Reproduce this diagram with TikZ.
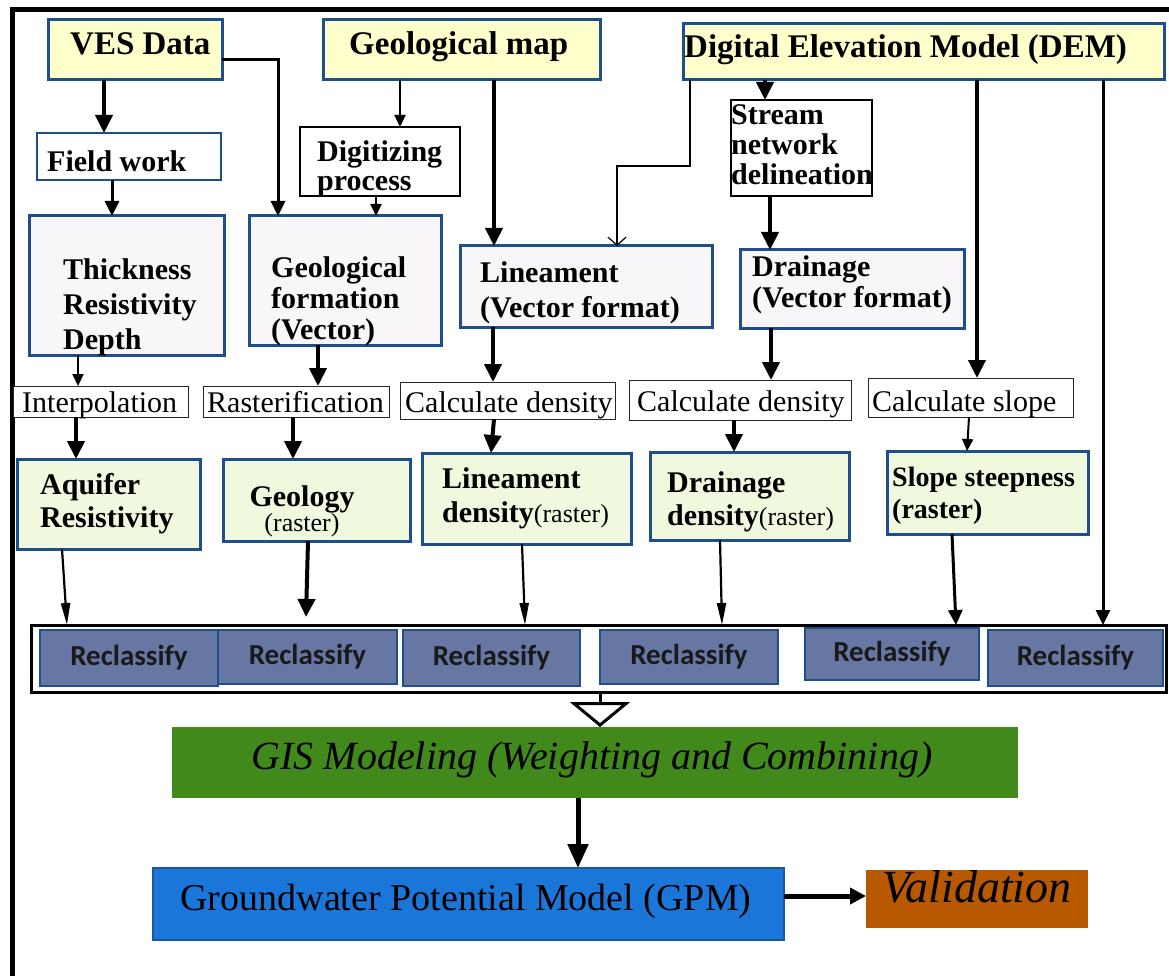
\documentclass[tikz,border=0pt]{standalone}
\usepackage{fontspec}
\setmainfont{Liberation Serif}
\newfontfamily\calibfont{Carlito}
\usetikzlibrary{arrows.meta}

\definecolor{bxblue}{HTML}{1F4E8C}
\definecolor{yel}{HTML}{FFFFCC}
\definecolor{pale}{HTML}{F8F6F8}
\definecolor{lgreen}{HTML}{F0F9DE}
\definecolor{recl}{HTML}{6577A2}
\definecolor{gisgreen}{HTML}{41891A}
\definecolor{gpmblue}{HTML}{1B76D9}
\definecolor{gpmedge}{HTML}{1A55A0}
\definecolor{valor}{HTML}{B85900}

% rectangle node from its corner coordinates: style, name, x1, y1, x2, y2
\newcommand\pbox[6]{%
  \node[#1, inner sep=0pt, outer sep=0pt,
        minimum width={(#5)-(#3)}, minimum height={(#6)-(#4)}]
    (#2) at ({((#3)+(#5))/2},{((#4)+(#6))/2}) {};}
% smaller upright text inside bold labels
\newcommand\smallreg[1]{{\mdseries\fontsize{26}{26}\selectfont #1}}

\begin{document}
\begin{tikzpicture}[x=1pt,y=-1pt,
  src/.style={draw=bxblue, line width=3pt, fill=yel},
  wbox/.style={draw=bxblue, line width=2.5pt, fill=white},
  kbox/.style={draw=black, line width=1.6pt, fill=white},
  vbox/.style={draw=bxblue, line width=3pt, fill=pale},
  obox/.style={draw=black!85, line width=1pt, fill=white},
  rbox/.style={draw=bxblue, line width=3pt, fill=lgreen},
  cbox/.style={draw=bxblue, line width=2.5pt, fill=recl},
  frame/.style={draw=black, line width=3pt, fill=white},
  tbig/.style={inner sep=0pt, anchor=base west, font=\fontsize{33}{33}\selectfont\bfseries},
  % multi-line labels: the base anchor sits on the last line
  tb/.style={inner sep=0pt, anchor=base west, align=left, font=\fontsize{30}{#1}\selectfont\bfseries},
  tb/.default=31,
  tr/.style={inner sep=0pt, anchor=base west, font=\fontsize{30}{30}\selectfont},
  trc/.style={inner sep=0pt, font=\calibfont\bfseries\fontsize{29}{29}\selectfont, text=black!90},
  arK/.style={line width=4pt, -{Triangle[length=18pt,width=17pt]}},
  arM/.style={line width=3pt, -{Triangle[length=15pt,width=14pt]}},
  arS/.style={line width=2pt, -{Triangle[length=12pt,width=11pt]}},
  arN/.style={line width=2.2pt, -{Triangle[length=22pt,width=9pt]}},
  arV/.style={line width=1.2pt, -{Straight Barb[length=8pt,width=18pt,line width=1.2pt]}},
  hollow/.style={line width=3pt, -{Triangle[open,length=25pt,width=60pt,line width=3pt]}}
]
\useasboundingbox (0,0) rectangle (1169,976);
\fill[white] (0,0) rectangle (1169,976);

% outer frame (top and left sides)
\draw[line width=5pt] (1169,10) -- (12,10) -- (12,976);

% data sources
\pbox{src}{ves}{48}{20}{222}{80}
\pbox{src}{gmap}{323}{20}{600}{80}
\pbox{src}{dem}{683}{24}{1164}{80}
\node[tbig] (ves-t) at (70,55) {VES Data};
\node[tbig] (gmap-t) at (349,55) {Geological map};
\node[tbig] (dem-t) at (684,58) {Digital Elevation Model (DEM)};

% first processing steps
\pbox{wbox}{field}{37}{133}{221}{180}
\pbox{kbox}{digit}{300}{127}{460}{196}
\pbox{kbox}{stream}{731}{100}{872}{196}
\node[tb] (field-t) at (47,172) {Field work};
\node[tb=29] (digit-t) at (317,191) {Digitizing\\process};
\node[tb=30] (stream-t) at (731,185) {Stream\\network\\delineation};

% vector / point products
\pbox{vbox}{thick}{29}{216}{224}{355}
\pbox{vbox}{geof}{249}{216}{441}{345}
\pbox{vbox}{linv}{460}{246}{712}{327}
\pbox{vbox}{drv}{740}{250}{964}{328}
\node[tb=35] (thick-t) at (63,349) {Thickness\\Resistivity\\Depth};
\node[tb=31] (geof-t) at (271,339) {Geological\\formation\\(Vector)};
\node[tb=35] (linv-t) at (480,317) {Lineament\\(Vector format)};
\node[tb=31] (drv-t) at (752,307) {Drainage\\(Vector format)};

% operations
\pbox{obox}{interp}{13}{386}{188}{417}
\pbox{obox}{raster}{203}{386}{389}{417}
\pbox{obox}{cdl}{400}{382}{615}{419}
\pbox{obox}{cdd}{629}{380}{851}{420}
\pbox{obox}{cslope}{868}{378}{1073}{417}
\node[tr] (interp-t) at (22,412) {Interpolation};
\node[tr] (raster-t) at (207,412) {Rasterification};
\node[tr] (cdl-t) at (405,412) {Calculate density};
\node[tr] (cdd-t) at (637,411) {Calculate density};
\node[tr] (cslope-t) at (872,411) {Calculate slope};

% raster layers
\pbox{rbox}{aquifer}{17}{459}{200}{549}
\pbox{rbox}{geol}{223}{459}{410}{541}
\pbox{rbox}{lind}{422}{453}{631}{544}
\pbox{rbox}{drd}{650}{452}{849}{540}
\pbox{rbox}{slope}{887}{451}{1088}{534}
\node[tb=33] (aquifer-t) at (40,527) {Aquifer\\Resistivity};
\node[tb, anchor=base] (geol-t1) at (302,506) {Geology};
\node[inner sep=0pt, anchor=base, font=\fontsize{26}{26}\selectfont] (geol-t2) at (302,531) {(raster)};
\node[tb=34] (lind-t) at (442,522) {Lineament\\density\smallreg{(raster)}};
\node[tb=33] (drd-t) at (667,525) {Drainage\\density\smallreg{(raster)}};
\node[inner sep=0pt, anchor=base west, font=\fontsize{28}{32}\selectfont\bfseries, align=left] (slope-t) at (892,518) {Slope steepness\\(raster)};

% reclassification stage
\pbox{frame}{cont}{31}{625}{1166}{692}
\pbox{cbox}{rc1}{40}{630}{218}{686}
\pbox{cbox}{rc2}{218}{630}{397}{684}
\pbox{cbox}{rc3}{403}{630}{580}{686}
\pbox{cbox}{rc4}{600}{630}{778}{684}
\pbox{cbox}{rc5}{805}{628}{979}{680}
\pbox{cbox}{rc6}{988}{630}{1163}{686}
\foreach \r in {rc1,rc2,rc3,rc4,rc5,rc6}
  \node[trc] (\r-t) at (\r.center) {Reclassify};

% modelling and result
\pbox{fill=gisgreen}{gis}{172}{727}{1018}{798}
\node[inner sep=0pt, font=\fontsize{40}{40}\selectfont\itshape] (gis-t) at (592,760) {GIS Modeling (Weighting and Combining)};
\pbox{draw=gpmedge, line width=2pt, fill=gpmblue}{gpm}{153}{868}{784}{940}
\node[inner sep=0pt, anchor=base, font=\fontsize{38}{38}\selectfont] (gpm-t) at (466,910) {Groundwater Potential Model (GPM)};
\pbox{fill=valor}{val}{866}{870}{1088}{928}
\node[inner sep=0pt, anchor=base, font=\fontsize{46}{46}\selectfont\itshape] (val-t) at (977,902) {Validation};

% connectors
\draw[arK] (ves.south -| 104,0) -- (field.north -| 104,0);
\draw[arM] (ves.east |- 0,60) -| (geof.north -| 278,0);
\draw[arM] (field.south -| 112,0) -- (thick.north -| 112,0);
\draw[arS] (gmap.south -| 400,0) -- (digit.north -| 400,0);
\draw[arK] (gmap.south -| 494,0) -- (linv.north -| 494,0);
\draw[arS] (digit.south -| 376,0) -- (geof.north -| 376,0);
\draw[arV] (dem.south -| 690,0) |- (617,166) -- (linv.north -| 617,0);
\draw[arK] (dem.south -| 765,0) -- (stream.north -| 765,0);
\draw[arK] (stream.south -| 770,0) -- (drv.north -| 770,0);
\draw[arK] (dem.south -| 977,0) -- (cslope.north -| 977,0);
\draw[arM] (dem.south -| 1103,0) -- (cont.north -| 1103,0);

\draw[arS] (thick.south -| 78,0) -- (interp.north -| 78,0);
\draw[arK] (geof.south -| 318,0) -- (raster.north -| 318,0);
\draw[arK] (linv.south -| 493,0) -- (cdl.north -| 493,0);
\draw[arK] (drv.south -| 771,0) -- (cdd.north -| 771,0);

\draw[arK] (interp.south -| 76,0) -- (aquifer.north -| 76,0);
\draw[arK] (raster.south -| 293,0) -- (geol.north -| 293,0);
\draw[arK] (cdl.south -| 494,0) -- (lind.north -| 491,0);
\draw[arK] (cdd.south -| 734,0) -- (drd.north -| 734,0);
\draw[arS] (cslope.south -| 969,0) -- (slope.north -| 967,0);

\coordinate (geoend) at (306,617);
\draw[arN] (aquifer.south -| 62,0) -- (cont.north -| 67,0);
\draw[arK] (geol.south -| 308,0) -- (geoend);
\draw[arN] (lind.south -| 522,0) -- (cont.north -| 525,0);
\draw[arN] (drd.south -| 720,0) -- (cont.north -| 722,0);
\draw[arM] (slope.south -| 952,0) -- (cont.north -| 956,0);

\draw[hollow] (cont.south -| 600,0) -- (gis.north -| 600,0);
\draw[line width=5pt, -{Triangle[length=24pt,width=20pt]}] (gis.south -| 578,0) -- (gpm.north -| 578,0);
\draw[line width=5pt, -{Triangle[length=16pt,width=16pt]}] (gpm.east |- 0,896) -- (val.west |- 0,896);
\end{tikzpicture}
\end{document}
